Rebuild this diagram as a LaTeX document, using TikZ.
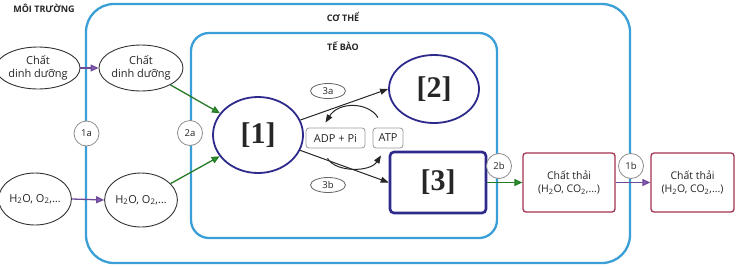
\documentclass[tikz,border=0pt]{standalone}
\usepackage{fontspec}
\setmainfont{Open Sans}
\newfontfamily\tnr{Liberation Serif}
\usetikzlibrary{shapes.geometric,arrows.meta,calc}
\definecolor{skyb}{HTML}{3A9FD6}
\definecolor{navyb}{HTML}{2D2A8C}
\definecolor{maroonb}{HTML}{A3324E}
\definecolor{grn}{HTML}{2F9A2F}
\definecolor{purp}{HTML}{6E4B96}
\definecolor{purptip}{HTML}{8A5CC0}
\begin{document}
\begin{tikzpicture}[x=1pt,y=-1pt,
  every node/.style={font=\fontsize{11}{13.5}\selectfont, text=black!85, align=center},
  oval/.style={ellipse, draw=black!80, line width=0.9pt, fill=white, inner sep=0pt},
  bigoval/.style={ellipse, draw=navyb, line width=1.8pt, inner sep=0pt, font=\tnr\bfseries\fontsize{30}{30}\selectfont},
  bigbox/.style={rectangle, rounded corners=4pt, draw=navyb, line width=2.6pt, inner sep=0pt, font=\tnr\bfseries\fontsize{30}{30}\selectfont},
  smallbox/.style={rectangle, rounded corners=3pt, draw=black!40, line width=0.8pt, inner sep=0pt, font=\fontsize{11}{13}\selectfont},
  wastebox/.style={rectangle, rounded corners=3pt, draw=maroonb, line width=1.3pt, fill=white, inner sep=0pt, font=\fontsize{10.5}{13.5}\selectfont},
  tag/.style={circle, draw=black!45, line width=0.8pt, fill=white, inner sep=0pt, minimum size=25pt, font=\fontsize{9.5}{10}\selectfont},
  tago/.style={ellipse, draw=black!60, line width=0.8pt, fill=white, inner sep=0pt, minimum width=35pt, minimum height=15pt, font=\fontsize{9.5}{10}\selectfont},
  title/.style={font=\bfseries\fontsize{9}{10}\selectfont, text=black!85},
  frame/.style={draw=skyb, line width=2.3pt},
  arrP/.style={draw=purp, line width=1.3pt, -{Triangle[length=8pt,width=7pt,fill=purptip]}},
  arrG/.style={draw=grn!80!black, line width=1.3pt, -{Triangle[length=8pt,width=7pt, fill=grn]}},
  arrK/.style={draw=black!85, line width=1pt, -{Triangle[length=8pt,width=6pt]}}
]
\useasboundingbox (0,0) rectangle (736,266);
% frames
\draw[frame, rounded corners=28pt] (86,4) rectangle (630,263);
\draw[frame, rounded corners=18pt] (191,33) rectangle (497,238);
% titles
\node[title] (tmt) at (44,8) {MÔI TRƯỜNG};
\node[title] (tct) at (343,17) {CƠ THỂ};
\node[title] (ttb) at (343,46) {TẾ BÀO};
% ellipses
\node[oval, minimum width=70pt, minimum height=42pt] (cd1) at (38,68) {Chất\\dinh dưỡng};
\node[oval, minimum width=68pt, minimum height=46pt] (cd2) at (141,68) {Chất\\dinh dưỡng};
\node[oval, minimum width=67pt, minimum height=52pt] (h1) at (35,199) {H\textsubscript{2}O, O\textsubscript{2},\dots};
\node[oval, minimum width=70pt, minimum height=54pt] (h2) at (141,200) {H\textsubscript{2}O, O\textsubscript{2},\dots};
% cell parts
\node[bigoval, minimum width=90pt, minimum height=76pt] (n1) at (258,135) {[1]};
\node[bigoval, minimum width=90pt, minimum height=68pt] (n2) at (434,89) {[2]};
\node[bigbox, minimum width=96pt, minimum height=61pt] (n3) at (438,182.5) {[3]};
\node[smallbox, minimum width=59pt, minimum height=20pt] (adp) at (335.5,138) {ADP + Pi};
\node[smallbox, minimum width=30pt, minimum height=20pt] (atp) at (388,138) {ATP};
\node[tago] (l3a) at (328,91) {3a};
\node[tago] (l3b) at (328,185) {3b};
% waste
\node[wastebox, minimum width=92pt, minimum height=59pt] (ct1) at (569,182.5) {Chất thải\\(H\textsubscript{2}O, CO\textsubscript{2},...)};
\node[wastebox, minimum width=83pt, minimum height=59pt] (ct2) at (692.5,182.5) {Chất thải\\(H\textsubscript{2}O, CO\textsubscript{2},...)};
% arrows
\draw[arrP] (cd1.east) -- (cd2.west);
\draw[arrP] (h1.east) -- (h2.west);
\draw[arrG] (cd2) -- (n1);
\draw[arrG] (h2) -- (n1);
\draw[arrK] (n1) -- (n2.west);
\draw[arrK] (n1) -- (n3.west);
\draw[arrK] ($(atp.north)+(-10,-10)$) .. controls +(-10,-16) and +(13,-21) .. ($(adp.north)+(-10,-5)$);
\draw[arrK] ($(adp.south)+(-8,10)$) .. controls +(8,14) and +(-11,17) .. ($(atp.south)+(-7,7)$);
\draw[arrG] (n3.east) -- (ct1.west);
\draw[arrP] (ct1.east) -- (ct2.west);
% tags on frames
\node[tag] (t1a) at (86.5,133.5) {1a};
\node[tag] (t2a) at (190,133) {2a};
\node[tag] (t2b) at (499,166) {2b};
\node[tag] (t1b) at (631,166) {1b};
\end{tikzpicture}
\end{document}
